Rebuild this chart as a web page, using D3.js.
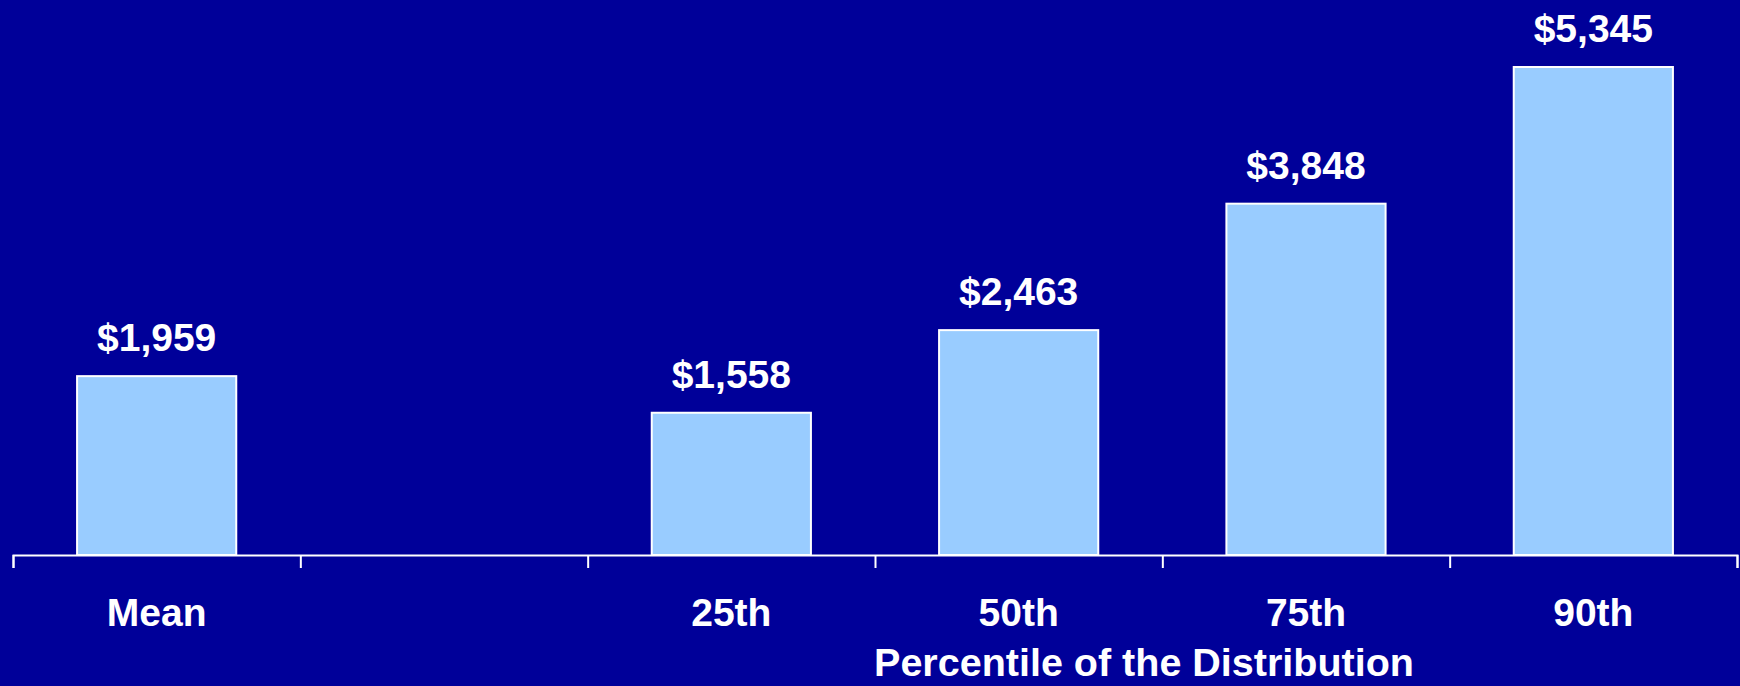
<!DOCTYPE html>
<html>
<head>
<meta charset="utf-8">
<script src="https://cdn.jsdelivr.net/npm/d3@7"></script>
<style>
  html, body { margin: 0; padding: 0; background: #000099; overflow: hidden; }
  svg { display: block; }
  text { font-family: "Liberation Sans", Arial, sans-serif; font-weight: bold; fill: #ffffff; }
</style>
</head>
<body>
<svg id="chart" width="1740" height="686"></svg>
<script>
// categories along the axis, the second slot is left empty in the original
var categories = ["Mean", "gap", "25th", "50th", "75th", "90th"];
var tickLabels = ["Mean", "", "25th", "50th", "75th", "90th"];
var values = [1959, null, 1558, 2463, 3848, 5345];
var axisTitle = "Percentile of the Distribution";

var width = 1740, height = 686;
var left = 13, right = 1737, baseY = 555;

var svg = d3.select("#chart");

svg.append("rect")
  .attr("width", width)
  .attr("height", height)
  .attr("fill", "#000099");

var x = d3.scaleBand()
  .domain(categories)
  .range([left, right])
  .paddingInner(0.446)
  .paddingOuter(0.223);

var y = d3.scaleLinear()
  .domain([0, 5345])
  .range([baseY, 67]);

var data = categories.map(function(c, i) {
  return { cat: c, label: tickLabels[i], value: values[i] };
}).filter(function(d) { return d.value != null; });

// bars
svg.selectAll("rect.bar")
  .data(data)
  .enter().append("rect")
  .attr("class", "bar")
  .attr("x", function(d) { return x(d.cat); })
  .attr("y", function(d) { return y(d.value); })
  .attr("width", x.bandwidth())
  .attr("height", function(d) { return y(0) - y(d.value); })
  .attr("fill", "#99ccff")
  .attr("stroke", "#ffffff")
  .attr("stroke-width", 2);

// value labels
var fmt = d3.format("$,");
svg.selectAll("text.val")
  .data(data)
  .enter().append("text")
  .attr("class", "val")
  .attr("x", function(d) { return x(d.cat) + x.bandwidth() / 2; })
  .attr("y", function(d) { return y(d.value) - 25; })
  .attr("text-anchor", "middle")
  .style("font-size", "39px")
  .text(function(d) { return fmt(d.value); });

// axis line with ticks at the band edges
var edges = d3.scaleLinear().domain([0, categories.length]).range([left, right]);
var axisG = svg.append("g")
  .attr("transform", "translate(0," + baseY + ")")
  .call(d3.axisBottom(edges)
    .tickValues(d3.range(categories.length + 1))
    .tickSizeInner(13)
    .tickSizeOuter(13)
    .tickFormat(""));
axisG.selectAll("path, line")
  .attr("stroke", "#ffffff")
  .attr("stroke-width", 2);

// category labels
var labelG = svg.append("g")
  .attr("transform", "translate(0," + baseY + ")")
  .call(d3.axisBottom(x).tickSize(0).tickFormat(function(d, i) { return tickLabels[i]; }));
labelG.select(".domain").remove();
labelG.selectAll("text")
  .attr("y", 71)
  .attr("dy", 0)
  .attr("fill", "#ffffff")
  .style("font-family", "'Liberation Sans', Arial, sans-serif")
  .style("font-weight", "bold")
  .style("font-size", "39px");

// axis title
svg.append("text")
  .attr("x", 1144)
  .attr("y", 676)
  .attr("text-anchor", "middle")
  .style("font-size", "39.5px")
  .text(axisTitle);
</script>
</body>
</html>
